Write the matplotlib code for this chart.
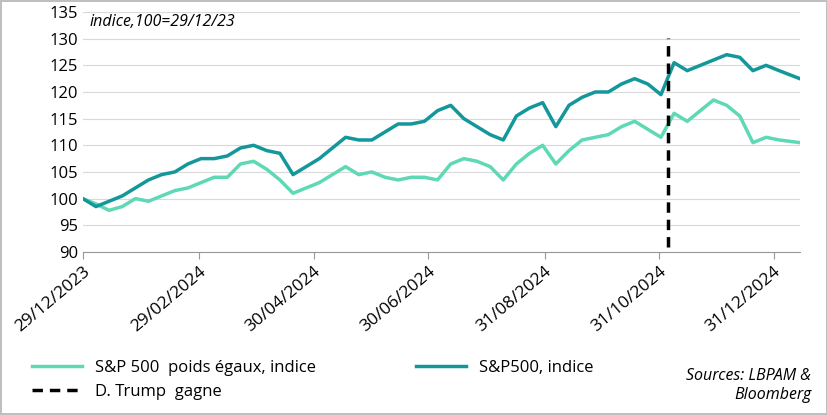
import matplotlib
matplotlib.use("Agg")
import matplotlib.pyplot as plt
import pandas as pd

dates = pd.date_range("2023-12-29", periods=55, freq="7D").tolist()[:-1] + [pd.Timestamp("2025-01-14")]
sp500 = [100, 98.5, 99.5, 100.5, 102, 103.5, 104.5, 105, 106.5, 107.5, 107.5, 108, 109.5, 110, 109,
         108.5, 104.5, 106, 107.5, 109.5, 111.5, 111, 111, 112.5, 114, 114, 114.5, 116.5, 117.5,
         115, 113.5, 112, 111, 115.5, 117, 118, 113.5, 117.5, 119, 120, 120, 121.5, 122.5, 121.5,
         119.5, 125.5, 124, 125, 126, 127, 126.5, 124, 125, 124, 122.5]
sp_ew = [100, 99, 97.8, 98.5, 100, 99.5, 100.5, 101.5, 102, 103, 104, 104, 106.5, 107, 105.5,
         103.5, 101, 102, 103, 104.5, 106, 104.5, 105, 104, 103.5, 104, 104, 103.5, 106.5, 107.5,
         107, 106, 103.5, 106.5, 108.5, 110, 106.5, 109, 111, 111.5, 112, 113.5, 114.5, 113,
         111.5, 116, 114.5, 116.5, 118.5, 117.5, 115.5, 110.5, 111.5, 111, 110.5]
n = min(len(dates), len(sp500), len(sp_ew))
dates, sp500, sp_ew = dates[:n], sp500[:n], sp_ew[:n]
ticks = ["2023-12-29", "2024-02-29", "2024-04-30", "2024-06-30", "2024-08-31", "2024-10-31", "2024-12-31"]
trump_date = "2024-11-05"

plt.rcParams["font.family"] = "Open Sans"
fig = plt.figure(figsize=(8.28, 4.15), dpi=100)
fig.patch.set_edgecolor("#bfbfbf")
fig.patch.set_linewidth(1.5)
ax = fig.add_axes([0.1, 0.393, 0.866, 0.578])
l1, = ax.plot(dates, sp_ew, color="#5fd9b5", lw=2.5)
l2, = ax.plot(dates, sp500, color="#13979a", lw=2.5)
l3 = ax.axvline(pd.Timestamp(trump_date), ymin=0.02, ymax=0.89, color="black", lw=2.5, ls=(0, (3, 2)))
ax.set_ylim(90, 135)
ax.set_yticks(range(90, 136, 5))
ax.set_xlim(pd.Timestamp("2023-12-29"), pd.Timestamp("2025-01-14"))
tk = [pd.Timestamp(t) for t in ticks]
ax.set_xticks(tk)
ax.set_xticklabels([t.strftime("%d/%m/%Y") for t in tk], rotation=40, ha="right", rotation_mode="anchor", fontsize=12.5)
ax.tick_params(axis="y", labelsize=12, length=0)
ax.tick_params(axis="x", length=5, color="#999999")
ax.grid(axis="y", color="#d9d9d9", lw=0.8)
for s in ["top", "right", "left"]:
    ax.spines[s].set_visible(False)
ax.spines["bottom"].set_color("#999999")
ax.text(0.01, 0.99, "indice,100=29/12/23", transform=ax.transAxes, style="italic", fontsize=11.5, va="top")
fig.legend([l1, l3, l2], ["S&P 500  poids égaux, indice", "D. Trump  gagne", "S&P500, indice"],
           loc="lower left", bbox_to_anchor=(0.02, 0.0), ncol=2, frameon=False, fontsize=12,
           handlelength=3, columnspacing=6)
fig.text(0.98, 0.03, "Sources: LBPAM &\nBloomberg", ha="right", va="bottom", style="italic", fontsize=11.5)
fig.savefig("out.png")
